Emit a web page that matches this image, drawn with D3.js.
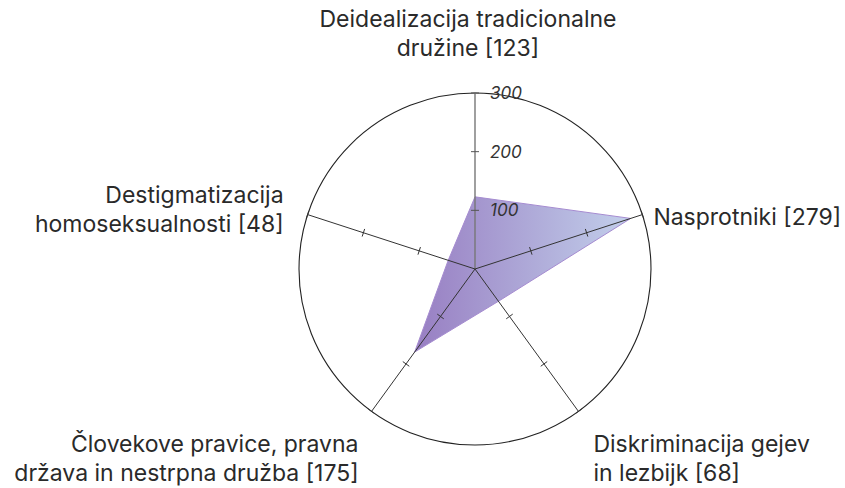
<!DOCTYPE html>
<html>
<head>
<meta charset="utf-8">
<script src="https://cdn.jsdelivr.net/npm/d3@7"></script>
<style>
  body { margin: 0; background: #fff; }
  svg { display: block; }
  .lbl { font-family: Inter, "Noto Sans", sans-serif; font-size: 23px; fill: #2a2a2a; }
  .tick-lbl { font-family: Inter, "Noto Sans", sans-serif; font-size: 17px; font-style: italic; fill: #333; }
</style>
</head>
<body>
<svg></svg>
<script>
// podatki
const categories = [
  ["Deidealizacija tradicionalne", "družine [123]"],
  ["Nasprotniki [279]"],
  ["Diskriminacija gejev", "in lezbijk [68]"],
  ["Človekove pravice, pravna", "država in nestrpna družba [175]"],
  ["Destigmatizacija", "homoseksualnosti [48]"]
]
const values = [123, 279, 68, 175, 48]
const tickValues = [100, 200, 300]

let width = 845
let height = 488
let cx = 475
let cy = 269
let radius = 176

let svg = d3.select("svg").attr("width", width).attr("height", height)

let rScale = d3.scaleLinear().domain([0, 300]).range([0, radius])
let angle = (i) => i * 2 * Math.PI / categories.length

let px = (i, v) => cx + rScale(v) * Math.sin(angle(i))
let py = (i, v) => cy - rScale(v) * Math.cos(angle(i))

// gradient
let defs = svg.append("defs")
let grad = defs.append("linearGradient").attr("id", "fillGrad")
    .attr("x1", "0%").attr("x2", "100%").attr("y1", "0%").attr("y2", "0%")
grad.append("stop").attr("offset", "0%").attr("stop-color", "#9277bf")
grad.append("stop").attr("offset", "100%").attr("stop-color", "#bfcdea")

let g = svg.append("g")

// buitenste cirkel
g.append("circle")
    .attr("cx", cx).attr("cy", cy).attr("r", rScale(300))
    .attr("fill", "none").attr("stroke", "#222").attr("stroke-width", 1.1)

// vlak
let line = d3.line()
    .x((d, i) => px(i, d))
    .y((d, i) => py(i, d))
    .curve(d3.curveLinearClosed)

g.append("path")
    .datum(values)
    .attr("d", line)
    .attr("fill", "url(#fillGrad)")
    .attr("fill-opacity", 0.95)
    .attr("stroke", "#a58bd0")
    .attr("stroke-width", 1)

// assen
categories.forEach((c, i) => {
    g.append("line")
        .attr("x1", cx).attr("y1", cy)
        .attr("x2", px(i, 300)).attr("y2", py(i, 300))
        .attr("stroke", i == 0 ? "#777" : "#333")
        .attr("stroke-width", i == 0 ? 1.4 : 1)

    tickValues.forEach(t => {
        let a = angle(i)
        let x = px(i, t), y = py(i, t)
        let nx = Math.cos(a) * 4, ny = Math.sin(a) * 4
        g.append("line")
            .attr("x1", x - nx).attr("y1", y - ny)
            .attr("x2", x + nx).attr("y2", y + ny)
            .attr("stroke", i == 0 ? "#555" : "#333")
            .attr("stroke-width", 1)
    })
})

// tick labels
g.selectAll(".tick-lbl")
    .data(tickValues)
    .enter()
    .append("text")
    .attr("class", "tick-lbl")
    .attr("x", cx + 15)
    .attr("y", (d) => py(0, d) + 6)
    .text((d) => d)

// categorie labels
let labelPos = [
    {dx: -7, dy: -66, anchor: "middle"},
    {dx: 11, dy: 10, anchor: "start"},
    {dx: 15, dy: 41, anchor: "start"},
    {dx: -13, dy: 41, anchor: "end"},
    {dx: -24, dy: -12, anchor: "end"}
]

categories.forEach((c, i) => {
    let t = g.append("text")
        .attr("class", "lbl")
        .attr("text-anchor", labelPos[i].anchor)
        .attr("x", px(i, 300) + labelPos[i].dx)
        .attr("y", py(i, 300) + labelPos[i].dy)
    c.forEach((s, j) => {
        t.append("tspan")
            .attr("x", px(i, 300) + labelPos[i].dx)
            .attr("dy", j == 0 ? 0 : 29)
            .text(s)
    })
})
</script>
</body>
</html>
